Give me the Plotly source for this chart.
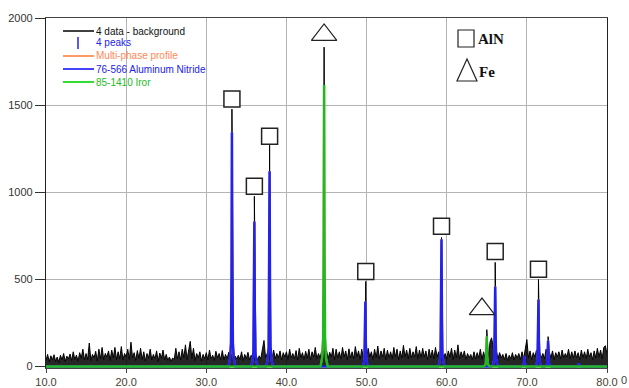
import numpy as np
import plotly.graph_objects as go

# ---------------- data ----------------
# background noise of the measured pattern, 0.2 deg steps from 10.0 to 80.0
noise_start = 10.0
noise_step = 0.2
noise_counts = [
    35, 70, 28, 62, 40, 68, 30, 55, 25, 65,
    38, 75, 30, 60, 45, 72, 35, 85, 40, 66,
    30, 80, 48, 100, 38, 75, 40, 135, 35, 70,
    50, 88, 32, 100, 45, 110, 40, 75, 55, 90,
    35, 95, 50, 110, 40, 85, 45, 115, 38, 75,
    55, 100, 40, 140, 50, 80, 35, 92, 45, 105,
    40, 85, 32, 75, 50, 100, 38, 70, 45, 90,
    30, 78, 48, 95, 40, 70, 35, 55, 30, 50,
    40, 105, 45, 85, 38, 100, 50, 125, 40, 90,
    145, 45, 105, 35, 75, 50, 85, 32, 70, 45,
    80, 38, 95, 45, 65, 35, 88, 50, 75, 40,
    92, 38, 70, 45, 82, 40, 75, 35, 60, 45,
    65, 40, 85, 35, 70, 45, 82, 38, 65, 50,
    40, 70, 35, 62, 45, 90, 150, 50, 75, 40,
    70, 40, 95, 45, 75, 50, 90, 38, 80, 55,
    85, 40, 100, 50, 75, 45, 92, 38, 105, 50,
    80, 40, 88, 48, 100, 40, 85, 55, 110, 45,
    75, 50, 90, 40, 70, 95, 45, 82, 55, 105,
    40, 100, 50, 85, 45, 110, 55, 90, 40, 102,
    50, 85, 45, 115, 55, 90, 40, 100, 50, 80,
    45, 105, 55, 85, 40, 100, 50, 118, 45, 90,
    55, 105, 40, 95, 50, 85, 45, 110, 55, 100,
    40, 90, 50, 122, 55, 95, 45, 105, 50, 85,
    55, 115, 45, 95, 50, 105, 55, 90, 40, 100,
    50, 95, 45, 110, 55, 85, 45, 100, 50, 75,
    45, 90, 55, 105, 40, 95, 50, 125, 45, 85,
    55, 90, 40, 75, 50, 70, 40, 85, 45, 80,
    50, 100, 40, 85, 45, 105, 50, 140, 165, 95,
    55, 90, 45, 80, 50, 70, 40, 75, 35, 65,
    45, 80, 38, 70, 50, 75, 40, 85, 45, 95,
    155, 50, 90, 40, 80, 55, 95, 45, 85, 50,
    75, 45, 100, 50, 85, 50, 90, 40, 80, 55,
    85, 45, 95, 50, 75, 55, 100, 45, 85, 50,
    90, 50, 80, 40, 95, 50, 85, 45, 100, 55,
    80, 40, 90, 50, 105, 55, 95, 45, 110, 120,
    70,
]

# measured peaks (data - background)
data_peak_pos = [33.2, 36.0, 37.9, 44.7, 49.9, 59.35, 65.0, 66.05, 71.45, 72.65]
data_peak_cts = [1477, 977, 1270, 1833, 489, 741, 212, 598, 500, 172]

# 76-566 Aluminum Nitride fitted profile
aln_pos = [33.2, 36.0, 37.9, 49.85, 59.35, 66.05, 69.7, 71.45, 72.65, 76.5]
aln_cts = [1345, 833, 1121, 374, 730, 460, 60, 385, 150, 20]

# 85-1410 Iron fitted profile
fe_pos = [44.7, 65.0]
fe_cts = [1615, 172]

# phase identification markers
aln_mark_x = [33.2, 36.0, 37.9, 49.9, 59.35, 66.05, 71.45]
aln_mark_y = [1535, 1035, 1322, 546, 805, 661, 558]
fe_mark_x = [44.7, 64.4]
fe_mark_y = [1903, 330]

x_ticks = [10, 20, 30, 40, 50, 60, 70, 80]
y_ticks = [0, 500, 1000, 1500, 2000]

# ---------------- build traces ----------------
nx = noise_start + noise_step * np.arange(len(noise_counts))
bx = list(nx) + list(data_peak_pos)
by = list(noise_counts) + list(data_peak_cts)
order = np.argsort(bx, kind="stable")
bx = [bx[i] for i in order]
by = [by[i] for i in order]

shape_dx = [-0.45, -0.25, -0.12, -0.05, 0.0, 0.05, 0.12, 0.25, 0.45]
shape_fr = [0.0, 0.03, 0.1, 0.4, 1.0, 0.4, 0.1, 0.03, 0.0]


def profile(pos, cts):
    xs, ys = [10.0], [0.0]
    for p, c in sorted(zip(pos, cts)):
        for d, f in zip(shape_dx, shape_fr):
            xs.append(p + d)
            ys.append(c * f)
    xs.append(80.0)
    ys.append(0.0)
    return xs, ys


ax_x, ax_y = profile(aln_pos, aln_cts)
fx, fy = profile(fe_pos, fe_cts)
mx, my = profile(aln_pos + fe_pos, aln_cts + fe_cts)

fig = go.Figure()
fig.add_trace(go.Scatter(x=bx, y=by, mode="lines", line=dict(color="black", width=1),
                         fill="tozeroy", fillcolor="rgba(0,0,0,0.85)",
                         name="4 data - background", showlegend=False))
fig.add_trace(go.Scatter(x=mx, y=my, mode="lines", line=dict(color="#ff9a66", width=2),
                         name="Multi-phase profile", showlegend=False))
fig.add_trace(go.Scatter(x=ax_x, y=ax_y, mode="lines", line=dict(color="#2222ee", width=2.5),
                         name="76-566 Aluminum Nitride", showlegend=False))
fig.add_trace(go.Scatter(x=fx, y=fy, mode="lines", line=dict(color="#22b822", width=2.5),
                         name="85-1410 Iror", showlegend=False))
fig.add_trace(go.Scatter(x=aln_mark_x, y=aln_mark_y, mode="markers",
                         marker=dict(symbol="square", size=16, color="white",
                                     line=dict(color="#222", width=1.5)),
                         showlegend=False, cliponaxis=False))
fig.add_trace(go.Scatter(x=fe_mark_x, y=fe_mark_y, mode="markers",
                         marker=dict(symbol="triangle-up", size=22, color="white",
                                     line=dict(color="#222", width=1.2)),
                         showlegend=False, cliponaxis=False))

# ---------------- layout ----------------
W, H = 629, 388
L, R, T, B = 46, 22, 18, 20
pw, ph = W - L - R, H - T - B


def px(x):
    return (x - L) / pw


def py(y):
    return (H - B - y) / ph


shapes = []
annos = []
legend_rows = [
    ("4 data - background", "black", "#111111", 31, "line"),
    ("4 peaks", "#2222ee", "#2222ee", 43, "bar"),
    ("Multi-phase profile", "#ff9a66", "#ff8855", 56, "line"),
    ("76-566 Aluminum Nitride", "#4444ff", "#2222ee", 69, "line"),
    ("85-1410 Iror", "#33dd33", "#22bb22", 82, "line"),
]
for text, lc, tc, yy, kind in legend_rows:
    if kind == "line":
        shapes.append(dict(type="line", xref="paper", yref="paper",
                           x0=px(63), x1=px(94), y0=py(yy), y1=py(yy),
                           line=dict(color=lc, width=1.5 if lc == "black" else 2)))
    else:
        shapes.append(dict(type="line", xref="paper", yref="paper",
                           x0=px(78), x1=px(78), y0=py(yy - 6), y1=py(yy + 6),
                           line=dict(color=lc, width=1.5)))
    annos.append(dict(x=px(94), y=py(yy), xref="paper", yref="paper", text=text,
                      showarrow=False, xanchor="left", yanchor="middle",
                      font=dict(family="Liberation Sans, Arial", size=10, color=tc)))

# AlN / Fe key
shapes.append(dict(type="rect", xref="paper", yref="paper",
                   x0=px(458), x1=px(474), y0=py(47), y1=py(30),
                   line=dict(color="#222", width=1.2), fillcolor="white"))
shapes.append(dict(type="path", xref="paper", yref="paper",
                   path=f"M {px(467)} {py(59)} L {px(457)} {py(81)} L {px(477)} {py(81)} Z",
                   line=dict(color="#222", width=1.2), fillcolor="white"))
annos.append(dict(x=px(476), y=py(39), xref="paper", yref="paper", text="<b>AlN</b>",
                  showarrow=False, xanchor="left", yanchor="middle",
                  font=dict(family="Liberation Serif, Times New Roman", size=15, color="#111")))
annos.append(dict(x=px(477), y=py(72), xref="paper", yref="paper", text="<b>Fe</b>",
                  showarrow=False, xanchor="left", yanchor="middle",
                  font=dict(family="Liberation Serif, Times New Roman", size=15, color="#111")))
annos.append(dict(x=px(624), y=py(380), xref="paper", yref="paper", text="0",
                  showarrow=False, xanchor="center", yanchor="middle",
                  font=dict(family="Liberation Sans, Arial", size=11, color="#444")))

fig.update_layout(
    width=W, height=H,
    margin=dict(l=L, r=R, t=T, b=B, pad=0, autoexpand=False),
    paper_bgcolor="white", plot_bgcolor="white",
    showlegend=False,
    shapes=shapes, annotations=annos,
    font=dict(family="Liberation Sans, Arial", size=11, color="#444"),
    xaxis=dict(range=[10, 80], tickvals=x_ticks, ticktext=[f"{v:.1f}" for v in x_ticks],
               showgrid=True, gridcolor="#b4b4b4", gridwidth=1, automargin=False,
               showline=True, linecolor="#444", linewidth=1, mirror=True,
               ticks="outside", ticklen=4, tickcolor="#444", zeroline=False,
               tickfont=dict(size=11, color="#4a4030")),
    yaxis=dict(range=[-8, 2000], tickvals=y_ticks, automargin=False,
               showgrid=True, gridcolor="#b4b4b4", gridwidth=1,
               showline=True, linecolor="#222", linewidth=1.2, mirror=True,
               ticks="outside", ticklen=10, tickcolor="#333", zeroline=False,
               tickfont=dict(size=11, color="#333")),
)

fig.write_html("out.html", config={"displayModeBar": False},
               post_script="document.body.style.margin='0px';")
